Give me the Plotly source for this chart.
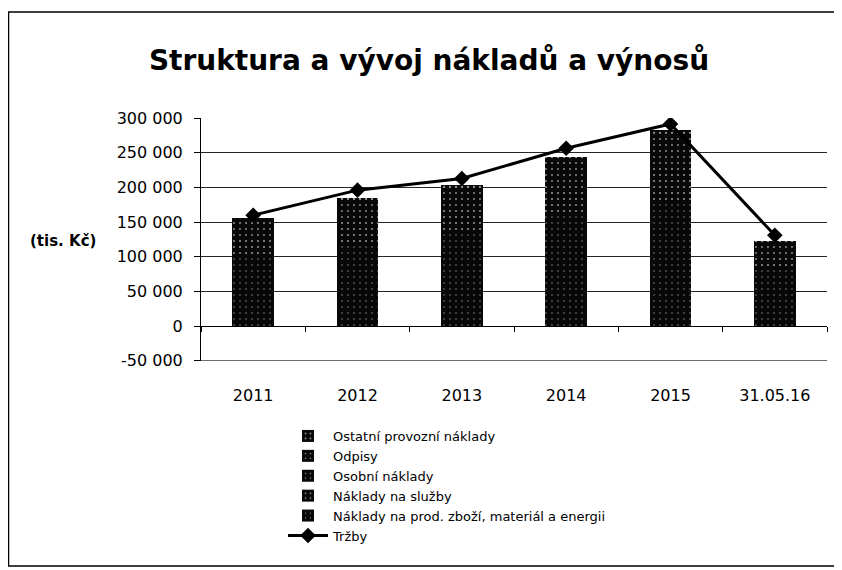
import plotly.graph_objects as go

# ---------------- data ----------------
categories = ["2011", "2012", "2013", "2014", "2015", "31.05.16"]

naklady_material = [100000, 121000, 136000, 160000, 182000, 82000]
naklady_sluzby = [25000, 30000, 32000, 40000, 48000, 18000]
osobni_naklady = [22000, 25000, 26000, 33000, 38000, 15500]
odpisy = [6000, 7000, 6500, 8000, 10000, 4500]
ostatni_naklady = [2000, 2400, 2300, 3200, 4800, 2200]
trzby = [159800, 196000, 212900, 256300, 291400, 130900]

y_tick_vals = [-50000, 0, 50000, 100000, 150000, 200000, 250000, 300000]
y_tick_text = ["-50 000", "0", "50 000", "100 000", "150 000", "200 000", "250 000", "300 000"]

FONT = "DejaVu Sans"

# figure size (page body adds an 8px margin in the 842x570 window)
W, H = 834, 562
# plot area in figure pixels
L, R, T, B = 193, 819, 110, 353

Y_MIN, Y_MAX = -50250, 300000


def px_x(x):
    return (x - L) / (R - L)


def px_y(y):
    return (B - y) / (B - T)


fig = go.Figure()

bar_series = [
    ("Náklady na prod. zboží, materiál a energii", naklady_material, 0.05),
    ("Náklady na služby", naklady_sluzby, 0.10),
    ("Osobní náklady", osobni_naklady, 0.08),
    ("Odpisy", odpisy, 0.09),
    ("Ostatní provozní náklady", ostatni_naklady, 0.12),
]
ranks = {
    "Ostatní provozní náklady": 1,
    "Odpisy": 2,
    "Osobní náklady": 3,
    "Náklady na služby": 4,
    "Náklady na prod. zboží, materiál a energii": 5,
}
for name, vals, sol in bar_series:
    fig.add_trace(go.Bar(
        x=categories, y=vals, name=name,
        marker=dict(color="#080808", line=dict(width=0),
                    pattern=dict(shape=".", fgcolor="#ffffff", fgopacity=0.55,
                                 size=6, solidity=sol, fillmode="overlay")),
        legendrank=ranks[name],
    ))

fig.add_trace(go.Scatter(
    x=categories, y=trzby, name="Tržby", mode="lines+markers",
    line=dict(color="#000000", width=3),
    marker=dict(symbol="diamond", size=12, color="#000000"),
    legendrank=6,
))

zero_pos = (0 - Y_MIN) / (Y_MAX - Y_MIN)

fig.update_layout(
    width=W, height=H,
    margin=dict(l=L, r=W - R, t=T, b=H - B, pad=0),
    paper_bgcolor="white", plot_bgcolor="white",
    barmode="stack", bargap=0.6,
    separators=", ",
    font=dict(family=FONT, color="#000000", size=14),
    title=dict(text="<b>Struktura a vývoj nákladů a výnosů</b>",
               font=dict(family=FONT, size=28, color="#000000"),
               xref="container", x=421 / W, xanchor="center",
               yref="container", y=1 - 52 / H, yanchor="middle"),
    showlegend=True,
    legend=dict(
        x=px_x(275), xanchor="left",
        y=px_y(413), yanchor="top",
        traceorder="normal",
        font=dict(family=FONT, size=13, color="#000000"),
        bgcolor="rgba(0,0,0,0)", borderwidth=0,
        itemwidth=40, tracegroupgap=0,
    ),
    xaxis=dict(
        type="category",
        anchor="free", position=zero_pos,
        showline=True, linecolor="#000000", linewidth=1,
        ticks="outside", tickson="boundaries", ticklen=5, tickcolor="#000000",
        showgrid=False,
        tickfont=dict(family=FONT, size=16, color="#000000"),
        ticklabelstandoff=55,
    ),
    yaxis=dict(
        range=[Y_MIN, Y_MAX],
        tickvals=y_tick_vals, ticktext=y_tick_text,
        showline=True, linecolor="#000000", linewidth=1,
        ticks="outside", ticklen=6, tickcolor="#000000",
        showgrid=True, gridcolor="#262626", gridwidth=1,
        zeroline=False,
        tickfont=dict(family=FONT, size=16, color="#000000"),
        ticklabelstandoff=8,
    ),
    annotations=[
        dict(text="<b>(tis. Kč)</b>", xref="paper", yref="paper",
             x=px_x(55), y=px_y(233),
             xanchor="center", yanchor="middle", showarrow=False,
             font=dict(family=FONT, size=15, color="#000000")),
    ],
    shapes=[
        dict(type="rect", xref="paper", yref="paper",
             x0=px_x(0.5), x1=px_x(832),
             y0=px_y(558), y1=px_y(4),
             line=dict(color="#000000", width=1.5), fillcolor="rgba(0,0,0,0)",
             layer="below"),
        # bottom gridline (at the lowest tick), hidden by plotly at the axis edge
        dict(type="line", xref="paper", x0=0, x1=1,
             yref="y", y0=y_tick_vals[0], y1=y_tick_vals[0],
             line=dict(color="#262626", width=1), layer="below"),
    ],
)

fig.write_html("out.html")
